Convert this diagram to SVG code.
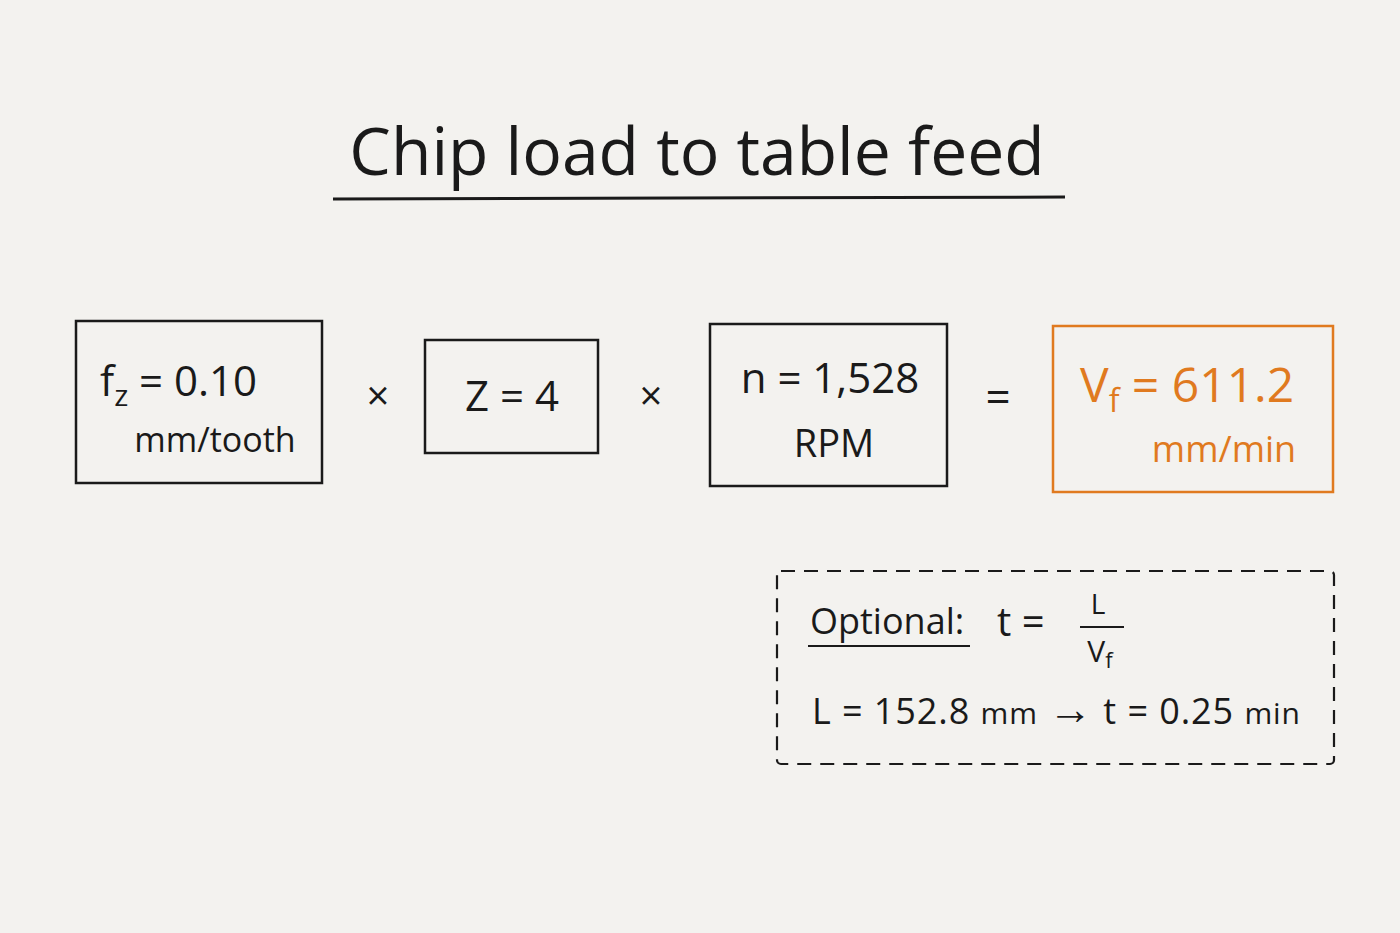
<svg xmlns="http://www.w3.org/2000/svg" width="1400" height="933" viewBox="0 0 1400 933">
<style>
.t{font-family:"Open Sans","Liberation Sans",sans-serif;fill:#1a1a1a}
.box{fill:none;stroke:#1a1a1a;stroke-width:2.5}
.o{fill:#e07a1f}
</style>
<rect width="1400" height="933" fill="#f3f2ef"/>
<g id="title">
<text class="t" x="697" y="175" font-size="66" text-anchor="middle">Chip load to table feed</text>
<line x1="333" y1="199" x2="1065" y2="197" stroke="#1a1a1a" stroke-width="3"/>
</g>
<g id="fz">
<rect class="box" x="76" y="321" width="246" height="162"/>
<text class="t" x="100" y="396" font-size="42">f<tspan font-size="30" dy="10">z</tspan><tspan dy="-10"> = 0.10</tspan></text>
<text class="t" x="215" y="452" font-size="34" text-anchor="middle">mm/tooth</text>
</g>
<g id="z">
<rect class="box" x="425" y="340" width="173" height="113"/>
<text class="t" x="512" y="411" font-size="42" text-anchor="middle">Z = 4</text>
</g>
<g id="n">
<rect class="box" x="710" y="324" width="237" height="162"/>
<text class="t" x="830" y="393" font-size="42" text-anchor="middle">n = 1,528</text>
<text class="t" x="834" y="457" font-size="38" text-anchor="middle">RPM</text>
</g>
<g id="vf">
<rect x="1053" y="326" width="280" height="166" fill="none" stroke="#e07a1f" stroke-width="2.5"/>
<text class="t o" x="1080" y="402" font-size="48">V<tspan font-size="32" dy="10">f</tspan><tspan dy="-10"> = 611.2</tspan></text>
<text class="t o" x="1224" y="462" font-size="36" text-anchor="middle">mm/min</text>
</g>
<g id="ops">
<text class="t" x="378" y="410" font-size="40" text-anchor="middle">×</text>
<text class="t" x="651" y="410" font-size="40" text-anchor="middle">×</text>
<text class="t" x="998" y="413" font-size="44" text-anchor="middle">=</text>
</g>
<g id="optional">
<rect x="777" y="571" width="557" height="193" rx="4" fill="none" stroke="#1a1a1a" stroke-width="2.2" stroke-dasharray="14 9"/>
<text class="t" x="810" y="634" font-size="36">Optional:</text>
<line x1="808" y1="646" x2="970" y2="646" stroke="#1a1a1a" stroke-width="2"/>
<text class="t" x="997" y="636" font-size="40">t =</text>
<text class="t" x="1098" y="614" font-size="28" text-anchor="middle">L</text>
<line x1="1080" y1="627" x2="1124" y2="627" stroke="#1a1a1a" stroke-width="2"/>
<text class="t" x="1100" y="662" font-size="30" text-anchor="middle">V<tspan font-size="22" dy="6">f</tspan></text>
<text class="t" x="812" y="724" font-size="36" textLength="488" lengthAdjust="spacing">L = 152.8 <tspan font-size="30">mm</tspan> <tspan font-size="44">→</tspan> t = 0.25 <tspan font-size="30">min</tspan></text>
</g>
</svg>
